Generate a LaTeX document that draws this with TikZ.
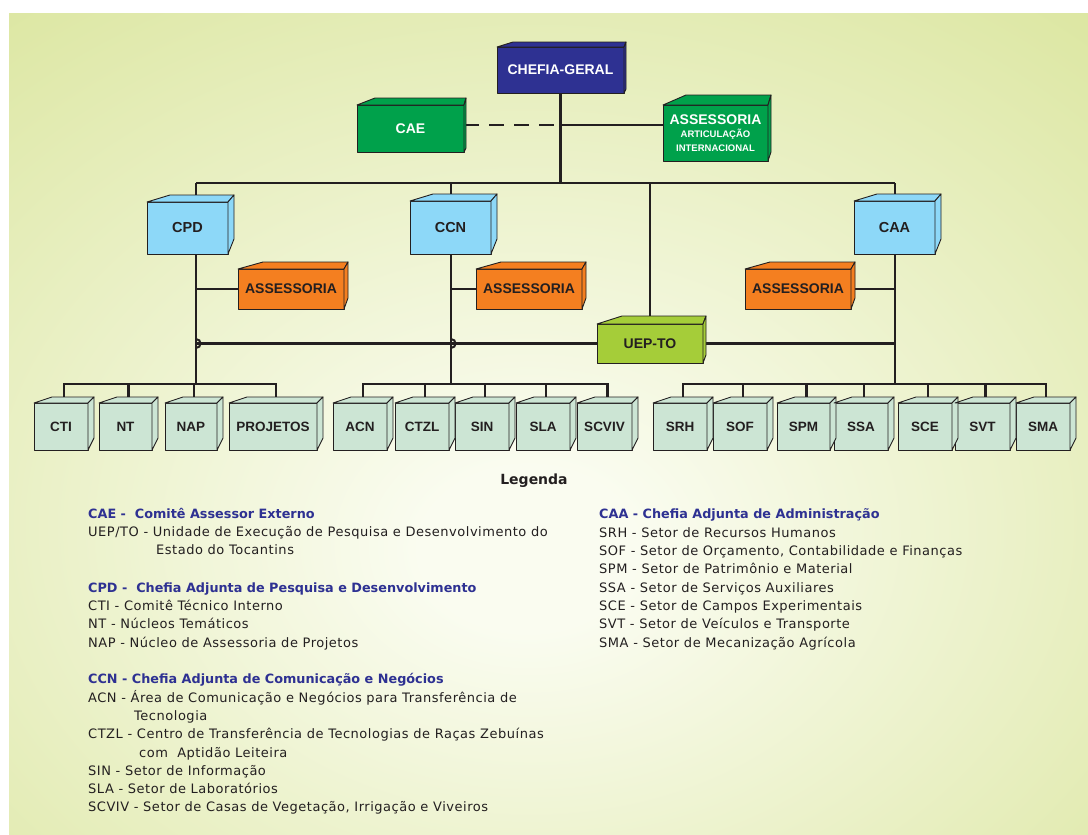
\documentclass[tikz,border=0pt]{standalone}
\usepackage{fontspec}
\setmainfont{Liberation Sans}
\newfontfamily\legfont[LetterSpace=4]{DejaVu Sans}
\newfontfamily\legheadfont{DejaVu Sans}
\usetikzlibrary{calc}

\definecolor{linec}{HTML}{231F20}
\definecolor{navy}{HTML}{2E3192}
\definecolor{boxgreen}{HTML}{00A14B}
\definecolor{skyblue}{HTML}{8DD8F8}
\definecolor{orangebox}{HTML}{F47F20}
\definecolor{limebox}{HTML}{A5CD39}
\definecolor{mintbox}{HTML}{CCE5D4}
\definecolor{legblue}{HTML}{2E3192}
\definecolor{bgout}{HTML}{D3E08A}
\definecolor{bgin}{HTML}{FAFCF0}

\pgfdeclareradialshading{panelshade}{\pgfpoint{-1bp}{-8bp}}{%
  color(0bp)=(bgin); color(5bp)=(bgin); color(50bp)=(bgout); color(100bp)=(bgout)}

\pgfdeclarelayer{panel}
\pgfdeclarelayer{wires}
\pgfsetlayers{panel,wires,main}

% top and right faces of a cube-shaped box: name, fill, a, h, b, c
\newcommand{\cubefaces}[6]{%
  \draw[boxline, fill=#2] (#1.north west) -- ++(#3,-#4) -- ($(#1.north east)+(#5,-#4)$) -- (#1.north east) -- cycle;
  \draw[boxline, fill=#2] (#1.north east) -- ++(#5,-#4) -- ($(#1.south east)+(#5,-#6)$) -- (#1.south east) -- cycle;}

\begin{document}
\begin{tikzpicture}[x=1pt,y=-1pt,
  boxline/.style={draw=linec, line width=0.9pt, line join=round},
  cubefront/.style={boxline, rectangle, inner sep=0pt, outer sep=0pt, align=center,
    font=\bfseries\fontsize{14}{16}\selectfont, text=linec},
  leafbox/.style={cubefront, fill=mintbox, minimum height=47pt, font=\bfseries\fontsize{13.5}{16}\selectfont},
  conn/.style={draw=linec, line width=2.7pt},
  hop/.style={draw=linec, line width=2pt},
  legtext/.style={anchor=base west, inner sep=0pt, text=linec, font=\legfont\fontsize{13}{15}\selectfont},
  leghead/.style={anchor=base west, inner sep=0pt, text=legblue, font=\legheadfont\bfseries\fontsize{12.8}{15}\selectfont}]

\useasboundingbox (0,0) rectangle (1088,835);
\begin{pgfonlayer}{panel}
  \fill[white] (0,0) rectangle (1088,835);
  \shade[shading=panelshade] (9,13) rectangle (1088,835);
\end{pgfonlayer}

% ---------- upper levels ----------
\node[cubefront, fill=navy, text=white, minimum width=127pt, minimum height=46pt] (chefia) at (560.5,70) {CHEFIA-GERAL};
\node[cubefront, fill=boxgreen, text=white, minimum width=107pt, minimum height=47pt] (cae) at (410.5,128.5) {CAE};
\node[cubefront, fill=boxgreen, text=white, minimum width=105pt, minimum height=56pt] (assint) at (715.5,133)
  {ASSESSORIA\\[-3pt]{\fontsize{9.5}{12}\selectfont ARTICULAÇÃO}\\[-2pt]{\fontsize{9.5}{12}\selectfont INTERNACIONAL}};

\node[cubefront, fill=skyblue, minimum width=81pt, minimum height=52pt, font=\bfseries\fontsize{14.5}{16}\selectfont] (cpd) at (187.5,228) {CPD};
\node[cubefront, fill=skyblue, minimum width=81pt, minimum height=53pt, font=\bfseries\fontsize{14.5}{16}\selectfont] (ccn) at (450.5,227.5) {CCN};
\node[cubefront, fill=skyblue, minimum width=81pt, minimum height=53pt, font=\bfseries\fontsize{14.5}{16}\selectfont] (caa) at (894.5,227.5) {CAA};

\node[cubefront, fill=orangebox, minimum width=106pt, minimum height=40pt] (asscpd) at (291,289) {ASSESSORIA};
\node[cubefront, fill=orangebox, minimum width=106pt, minimum height=40pt] (assccn) at (529,289) {ASSESSORIA};
\node[cubefront, fill=orangebox, minimum width=106pt, minimum height=40pt] (asscaa) at (798,289) {ASSESSORIA};

\node[cubefront, fill=limebox, minimum width=106pt, minimum height=39pt] (uep) at (650,343.5) {UEP-TO};

% ---------- lower level ----------
\node[leafbox, minimum width=54pt] (cti)   at (61,426.5)    {CTI};
\node[leafbox, minimum width=53pt] (nt)    at (125.5,426.5) {NT};
\node[leafbox, minimum width=52pt] (nap)   at (191,426.5)   {NAP};
\node[leafbox, minimum width=88pt] (proj)  at (273,426.5)   {PROJETOS};
\node[leafbox, minimum width=54pt] (acn)   at (360,426.5)   {ACN};
\node[leafbox, minimum width=54pt] (ctzl)  at (422,426.5)   {CTZL};
\node[leafbox, minimum width=54pt] (sin)   at (482,426.5)   {SIN};
\node[leafbox, minimum width=54pt] (sla)   at (543,426.5)   {SLA};
\node[leafbox, minimum width=55pt] (scviv) at (604.5,426.5) {SCVIV};
\node[leafbox, minimum width=54pt] (srh)   at (680,426.5)   {SRH};
\node[leafbox, minimum width=54pt] (sof)   at (740,426.5)   {SOF};
\node[leafbox, minimum width=53pt] (spm)   at (803.5,426.5) {SPM};
\node[leafbox, minimum width=54pt] (ssa)   at (861,426.5)   {SSA};
\node[leafbox, minimum width=54pt] (sce)   at (925,426.5)   {SCE};
\node[leafbox, minimum width=55pt] (svt)   at (982.5,426.5) {SVT};
\node[leafbox, minimum width=54pt] (sma)   at (1043,426.5)  {SMA};

% cube faces
\cubefaces{chefia}{navy}{16}{5}{2}{4}
\cubefaces{cae}{boxgreen}{18}{7}{2}{4}
\cubefaces{assint}{boxgreen}{23}{10}{3}{9}
\foreach \n in {cpd,ccn,caa}{\cubefaces{\n}{skyblue}{23}{7}{6}{15}}
\foreach \n in {asscpd,assccn,asscaa}{\cubefaces{\n}{orangebox}{25}{7}{4}{11}}
\cubefaces{uep}{limebox}{25}{8}{3}{8}
\foreach \n in {cti,nt,nap,proj,acn,ctzl,sin,sla,scviv,srh,sof,spm,ssa,sce,svt,sma}{\cubefaces{\n}{mintbox}{18}{6}{6}{12}}

% ---------- junctions ----------
\coordinate (bL) at (196,183);
\coordinate (bR) at (895,183);
\coordinate (jccn) at (451,183);
\coordinate (jcae) at (560.5,125);
\coordinate (cpdlow) at (196,384);
\coordinate (ccnlow) at (451,384);
\coordinate (caalow) at (895,384);
\coordinate (xcpd) at (bL |- uep.west);
\coordinate (xccn) at (jccn |- uep.west);

\begin{pgfonlayer}{wires}
  \draw[conn] (chefia.south) -- (chefia.south |- bL);
  \draw[conn, dash pattern=on 15pt off 10pt] (cae.east |- jcae) -- (jcae);
  \draw[conn] (jcae) -- (assint.west |- jcae);
  \draw[conn] (bL) -- (bR);
  \draw[conn] (bL) -- (cpdlow);
  \draw[conn] (jccn) -- (ccnlow);
  \draw[conn] (bR) -- (caalow);
  \draw[conn] (uep.north |- bL) -- (uep.north);
  \draw[conn] (uep.west) -- (xcpd);
  \draw[conn] (uep.east) -- (uep.east -| bR);
  \draw[hop] ($(xccn)+(0,-4.5)$) .. controls ($(xccn)+(6,-4.5)$) and ($(xccn)+(6,4.5)$) .. ($(xccn)+(0,4.5)$);
  \draw[hop] ($(xcpd)+(0,-4.5)$) .. controls ($(xcpd)+(6,-4.5)$) and ($(xcpd)+(6,4.5)$) .. ($(xcpd)+(0,4.5)$);
  \draw[conn] (asscpd.west -| bL) -- (asscpd.west);
  \draw[conn] (assccn.west -| jccn) -- (assccn.west);
  \draw[conn] (asscaa.east) -- (asscaa.east -| bR);
  % branch buses
  \draw[conn] ([xshift=3pt]cti.north) |- ([xshift=3pt]proj.north |- cpdlow) -- ([xshift=3pt]proj.north);
  \foreach \n in {nt,nap}{\draw[conn] ([xshift=3pt]\n.north) -- ([xshift=3pt]\n.north |- cpdlow);}
  \draw[conn] ([xshift=3pt]acn.north) |- ([xshift=3pt]scviv.north |- ccnlow) -- ([xshift=3pt]scviv.north);
  \foreach \n in {ctzl,sin,sla}{\draw[conn] ([xshift=3pt]\n.north) -- ([xshift=3pt]\n.north |- ccnlow);}
  \draw[conn] ([xshift=3pt]srh.north) |- ([xshift=3pt]sma.north |- caalow) -- ([xshift=3pt]sma.north);
  \foreach \n in {sof,spm,ssa,sce,svt}{\draw[conn] ([xshift=3pt]\n.north) -- ([xshift=3pt]\n.north |- caalow);}
\end{pgfonlayer}

% ---------- legend ----------
\node[inner sep=0pt, text=linec, font=\legheadfont\bfseries\fontsize{14}{16}\selectfont] (legtitle) at (534,481) {Legenda};

\node[leghead] (l1)  at (88,518)  {CAE -\ \ Comitê Assessor Externo};
\node[legtext] (l2)  at (88,536)  {UEP/TO - Unidade de Execução de Pesquisa e Desenvolvimento do};
\node[legtext] (l3)  at (156,554) {Estado do Tocantins};
\node[leghead] (l4)  at (88,592)  {CPD -\ \ Chefia Adjunta de Pesquisa e Desenvolvimento};
\node[legtext] (l5)  at (88,610)  {CTI - Comitê Técnico Interno};
\node[legtext] (l6)  at (88,628)  {NT - Núcleos Temáticos};
\node[legtext] (l7)  at (88,647)  {NAP - Núcleo de Assessoria de Projetos};
\node[leghead] (l8)  at (88,683)  {CCN - Chefia Adjunta de Comunicação e Negócios};
\node[legtext] (l9)  at (88,702)  {ACN - Área de Comunicação e Negócios para Transferência de};
\node[legtext] (l10) at (134,720) {Tecnologia};
\node[legtext] (l11) at (88,738)  {CTZL - Centro de Transferência de Tecnologias de Raças Zebuínas};
\node[legtext] (l12) at (139,757) {com\ \ Aptidão Leiteira};
\node[legtext] (l13) at (88,775)  {SIN - Setor de Informação};
\node[legtext] (l14) at (88,793)  {SLA - Setor de Laboratórios};
\node[legtext] (l15) at (88,811)  {SCVIV - Setor de Casas de Vegetação, Irrigação e Viveiros};

\node[leghead] (r1) at (599,518) {CAA - Chefia Adjunta de Administração};
\node[legtext] (r2) at (599,537) {SRH - Setor de Recursos Humanos};
\node[legtext] (r3) at (599,555) {SOF - Setor de Orçamento, Contabilidade e Finanças};
\node[legtext] (r4) at (599,573) {SPM - Setor de Patrimônio e Material};
\node[legtext] (r5) at (599,592) {SSA - Setor de Serviços Auxiliares};
\node[legtext] (r6) at (599,610) {SCE - Setor de Campos Experimentais};
\node[legtext] (r7) at (599,628) {SVT - Setor de Veículos e Transporte};
\node[legtext] (r8) at (599,647) {SMA - Setor de Mecanização Agrícola};
\end{tikzpicture}
\end{document}
